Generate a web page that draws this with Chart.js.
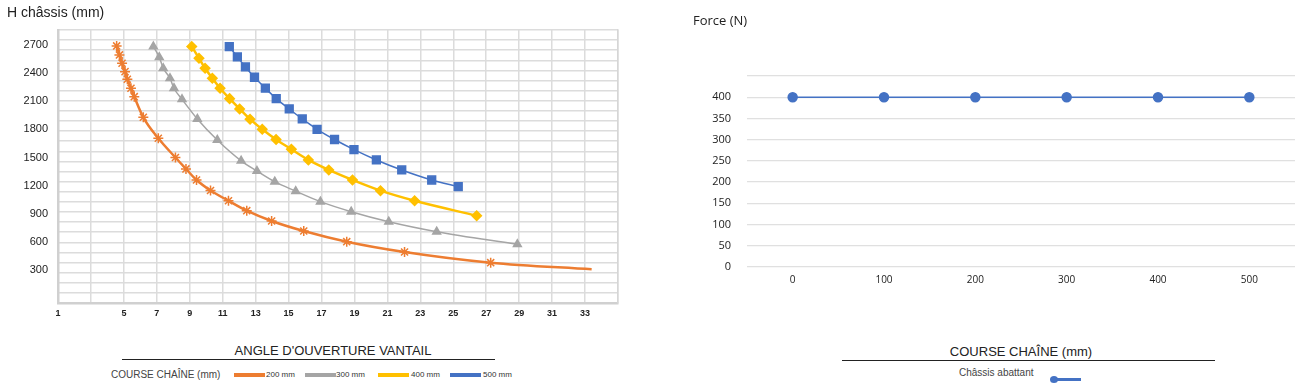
<!DOCTYPE html>
<html>
<head>
<meta charset="utf-8">
<script src="https://cdn.jsdelivr.net/npm/chart.js@4/dist/chart.umd.min.js"></script>
<style>
  html, body { margin:0; padding:0; background:#fff; width:1311px; height:392px; overflow:hidden; }
  body { position:relative; font-family:"Liberation Sans", Arial, sans-serif; color:#222; }
  canvas { position:absolute; }
  .t { position:absolute; white-space:nowrap; transform:translateY(-50%); line-height:1; }
  .c { transform:translate(-50%,-50%); }
  .sw { position:absolute; height:4px; }
  .hr { position:absolute; height:1px; background:#222; }
</style>
</head>
<body>
<canvas id="left" width="640" height="330" style="left:0;top:0;width:640px;height:330px"></canvas>
<canvas id="right" width="651" height="300" style="left:660px;top:0;width:651px;height:300px"></canvas>

<div class="t" style="left:7px;top:12px;font-size:14px;">H châssis (mm)</div>
<div class="t" style="left:693px;top:20px;font-size:13px;font-family:'Open Sans',sans-serif;">Force (N)</div>

<div class="t c" style="left:333px;top:350px;font-size:13px;">ANGLE D'OUVERTURE VANTAIL</div>
<div class="hr" style="left:122px;top:359px;width:373px;"></div>
<div class="t" style="left:111px;top:375px;font-size:10px;color:#444;">COURSE CHAÎNE (mm)</div>
<div id="legLeft"></div>

<div class="t c" style="left:1021px;top:351px;font-size:13px;">COURSE CHAÎNE (mm)</div>
<div class="hr" style="left:842px;top:360px;width:373px;"></div>
<div class="t" style="left:959px;top:373px;font-size:10px;color:#444;">Châssis abattant</div>
<div class="sw" style="left:1054px;top:378px;width:27px;height:3px;background:#4472C4;"></div>
<div style="position:absolute;left:1050px;top:376px;width:8px;height:7px;border-radius:50%;background:#4472C4;"></div>

<script>
// ---- Left chart data: angle d'ouverture (x) vs H châssis (y) ----
const angle200  = [4.56, 4.73, 4.89, 5.07, 5.21, 5.43, 5.63, 6.18, 7.09, 8.13, 8.77, 9.41, 10.26, 11.35, 12.46, 13.97, 15.92, 18.53, 22.04, 27.27, 33.4];
const height200 = [2690, 2594, 2505, 2416, 2335, 2239, 2149, 1929, 1705, 1500, 1378, 1260, 1148, 1039, 933, 823, 716, 602, 492, 378, 307];

const angle300  = [6.79, 7.15, 7.39, 7.80, 8.04, 8.53, 9.46, 10.67, 12.12, 13.08, 14.16, 15.43, 16.93, 18.80, 21.08, 23.99, 28.89];
const height300 = [2683, 2569, 2452, 2345, 2239, 2121, 1911, 1687, 1465, 1356, 1242, 1141, 1029, 922, 815, 709, 574];

const angle400  = [9.12, 9.56, 9.93, 10.37, 10.84, 11.42, 12.03, 12.66, 13.40, 14.24, 15.17, 16.20, 17.44, 18.88, 20.58, 22.65, 26.42];
const height400 = [2683, 2559, 2452, 2345, 2239, 2128, 2018, 1909, 1801, 1692, 1588, 1474, 1367, 1260, 1146, 1038, 879];

const angle500  = [11.40, 11.89, 12.38, 12.93, 13.59, 14.25, 15.04, 15.83, 16.73, 17.79, 18.97, 20.33, 21.87, 23.69, 25.30];
const height500 = [2683, 2573, 2466, 2356, 2239, 2128, 2018, 1911, 1801, 1692, 1584, 1474, 1367, 1260, 1189];

const seriesNames = ['200 mm', '300 mm', '400 mm', '500 mm'];
const xTickLabels = [1, 5, 7, 9, 11, 13, 15, 17, 19, 21, 23, 25, 27, 29, 31, 33];
const yTickLabels = [300, 600, 900, 1200, 1500, 1800, 2100, 2400, 2700];

// ---- Right chart data ----
const courseLabels = ['0', '100', '200', '300', '400', '500'];
const forceValues  = [400, 400, 400, 400, 400, 400];
const forceTicks   = [0, 50, 100, 150, 200, 250, 300, 350, 400];
const forceSeriesName = 'Châssis abattant';

const colors = ['#ED7D31', '#A5A5A5', '#FFC000', '#4472C4'];

// legend swatches (left)
(function(){
  const pos = [[234, 266], [305, 336], [378, 411], [450, 483]];
  const leg = document.getElementById('legLeft');
  seriesNames.forEach((n, i) => {
    const s = document.createElement('div');
    s.className = 'sw';
    s.style.cssText = `left:${pos[i][0]}px;top:373px;width:31px;background:${colors[i]};`;
    leg.appendChild(s);
    const t = document.createElement('div');
    t.className = 't';
    t.style.cssText = `left:${pos[i][1]}px;top:375px;font-size:8px;color:#333;`;
    t.textContent = n;
    leg.appendChild(t);
  });
})();

const zip = (xs, ys) => xs.map((x, i) => ({x, y: ys[i]}));
const gridCol = '#dcdcdc';

new Chart(document.getElementById('left'), {
  type: 'line',
  data: {
    datasets: [
      { label: seriesNames[0], data: zip(angle200, height200), borderColor: colors[0], backgroundColor: colors[0],
        borderWidth: 2.5, pointStyle: 'star', pointBorderWidth: 1.5,
        pointRadius: c => c.dataIndex === angle200.length - 1 ? 0 : 5, cubicInterpolationMode: 'monotone' },
      { label: seriesNames[1], data: zip(angle300, height300), borderColor: colors[1], backgroundColor: colors[1],
        borderWidth: 1.5, pointStyle: 'triangle', pointRadius: 4.5, cubicInterpolationMode: 'monotone' },
      { label: seriesNames[2], data: zip(angle400, height400), borderColor: colors[2], backgroundColor: colors[2],
        borderWidth: 2.5, pointStyle: 'rectRot', pointRadius: 4, cubicInterpolationMode: 'monotone' },
      { label: seriesNames[3], data: zip(angle500, height500), borderColor: colors[3], backgroundColor: colors[3],
        borderWidth: 1.5, pointStyle: 'rect', pointRadius: 5.5, cubicInterpolationMode: 'monotone' }
    ]
  },
  options: {
    responsive: false, animation: false, devicePixelRatio: 1,
    layout: { padding: { left: 0, top: 30, right: 22, bottom: 0 } },
    plugins: { legend: { display: false }, tooltip: { enabled: false } },
    scales: {
      x: {
        type: 'linear', min: 1, max: 35,
        afterFit: s => { s.height = 27; },
        ticks: { stepSize: 2, autoSkip: false, maxRotation: 0, padding: 5, color: '#222',
          font: { family: 'Liberation Sans', size: 9, weight: 'bold' },
          callback: v => xTickLabels.includes(v) ? String(v) : '' },
        grid: { color: gridCol, lineWidth: 1.5, drawTicks: false },
        border: { display: true, color: '#d0d0d0', width: 2.5 }
      },
      y: {
        type: 'linear', position: 'left', min: -52, max: 2860,
        afterFit: s => { s.width = 58; },
        afterBuildTicks: s => { s.ticks = yTickLabels.map(v => ({ value: v })); },
        ticks: { padding: 10, color: '#222', font: { family: 'Liberation Sans', size: 11 },
          callback: v => String(v) },
        grid: { display: false, drawTicks: false },
        border: { display: true, color: '#d0d0d0', width: 2.5 }
      },
      yGrid: {
        type: 'linear', position: 'right', min: 0, max: 2700,
        afterFit: s => { s.width = 0; },
        ticks: { display: false, stepSize: 100 },
        grid: { color: gridCol, lineWidth: 1.5, drawTicks: false },
        border: { display: true, color: '#d6d6d6', width: 1.5 }
      }
    }
  }
});

new Chart(document.getElementById('right'), {
  type: 'line',
  data: {
    labels: courseLabels,
    datasets: [{ label: forceSeriesName, data: forceValues, borderColor: '#4472C4', backgroundColor: '#4472C4',
      borderWidth: 1.5, pointStyle: 'circle', pointRadius: 4.5 }]
  },
  options: {
    responsive: false, animation: false, devicePixelRatio: 1,
    layout: { padding: { left: 0, top: 76, right: 16, bottom: 0 } },
    plugins: { legend: { display: false }, tooltip: { enabled: false } },
    scales: {
      x: {
        offset: true,
        afterFit: s => { s.height = 33; },
        ticks: { padding: 7, color: '#222', maxRotation: 0, font: { family: 'Open Sans', size: 10 } },
        grid: { display: false, drawTicks: false },
        border: { display: false }
      },
      y: {
        min: 0, max: 450,
        afterFit: s => { s.width = 87; },
        ticks: { stepSize: 50, padding: 16, color: '#222', font: { family: 'Open Sans', size: 11 },
          callback: v => forceTicks.includes(v) ? String(v) : '' },
        grid: { color: '#e0e0e0', lineWidth: 1.3, drawTicks: false },
        border: { display: false }
      }
    }
  }
});
</script>
</body>
</html>
